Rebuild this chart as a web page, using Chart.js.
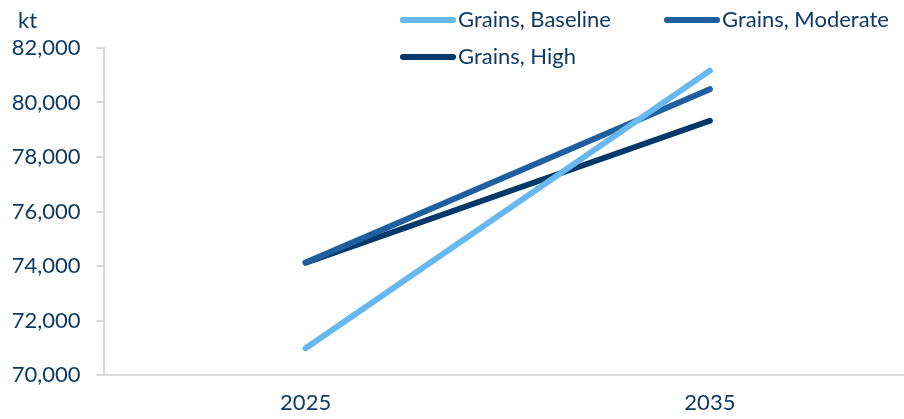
<!DOCTYPE html>
<html>
<head>
<meta charset="utf-8">
<script src="https://cdn.jsdelivr.net/npm/chart.js@4/dist/chart.umd.min.js"></script>
<style>
html,body{margin:0;padding:0;background:#fff;overflow:hidden;}
#wrap{position:relative;width:912px;height:419px;}
</style>
</head>
<body>
<div id="wrap"><canvas id="c"></canvas></div>
<script>
const categories = ['2025', '2035'];
const seriesNames = ['Grains, Baseline', 'Grains, Moderate', 'Grains, High'];
const baseline = [70980, 81170];
const moderate = [74130, 80490];
const high = [74120, 79330];
const seriesColors = ['#66B8EE', '#1F5F9F', '#03396A'];
const unitLabel = 'kt';

const textColor = '#0D3B66';
const FONT = 'Lato, "Open Sans", sans-serif';
const FS = 22;

const overlay = {
  id: 'overlay',
  afterDraw(chart) {
    const ctx = chart.ctx;
    ctx.save();
    ctx.fillStyle = textColor;
    ctx.font = FS + 'px ' + FONT;
    ctx.textBaseline = 'middle';
    ctx.textAlign = 'left';
    ctx.fillText(unitLabel, 18, 21);
    const pos = [[400, 20], [664, 20], [400, 57]];
    chart.data.datasets.forEach((ds, i) => {
      const [x, y] = pos[i];
      ctx.strokeStyle = ds.borderColor;
      ctx.lineWidth = 6;
      ctx.lineCap = 'round';
      ctx.beginPath();
      ctx.moveTo(x + 3, y);
      ctx.lineTo(x + 53, y);
      ctx.stroke();
      ctx.fillStyle = textColor;
      ctx.fillText(ds.label, x + 58, y);
    });
    ctx.restore();
  }
};

new Chart(document.getElementById('c'), {
  type: 'line',
  data: {
    labels: categories,
    datasets: [baseline, moderate, high].map((d, i) => ({
      label: seriesNames[i],
      data: d,
      borderColor: seriesColors[i],
      backgroundColor: seriesColors[i],
      borderWidth: 6,
      borderCapStyle: 'round',
      pointRadius: 0,
      tension: 0
    }))
  },
  options: {
    responsive: true,
    maintainAspectRatio: false,
    animation: false,
    layout: { padding: { top: 48, right: 0, left: 0, bottom: 0 } },
    plugins: { legend: { display: false }, tooltip: { enabled: false } },
    scales: {
      x: {
        offset: true,
        grid: { display: true, drawOnChartArea: false, drawTicks: false, color: '#D9D9D9' },
        border: { display: true, color: '#D9D9D9', width: 2 },
        ticks: { color: textColor, font: { family: FONT, size: FS }, padding: 15 },
        afterFit(s) { s.height = 44; }
      },
      y: {
        min: 70000,
        max: 82000,
        grid: { display: true, drawOnChartArea: false, drawTicks: true, tickLength: 7, color: '#D9D9D9', lineWidth: 2 },
        border: { display: true, color: '#D9D9D9', width: 2 },
        ticks: {
          stepSize: 2000,
          color: textColor,
          font: { family: FONT, size: FS },
          padding: 16,
          callback: v => v.toLocaleString('en-US')
        },
        afterFit(s) { s.width = 103.5; }
      }
    }
  },
  plugins: [overlay]
});
</script>
</body>
</html>
